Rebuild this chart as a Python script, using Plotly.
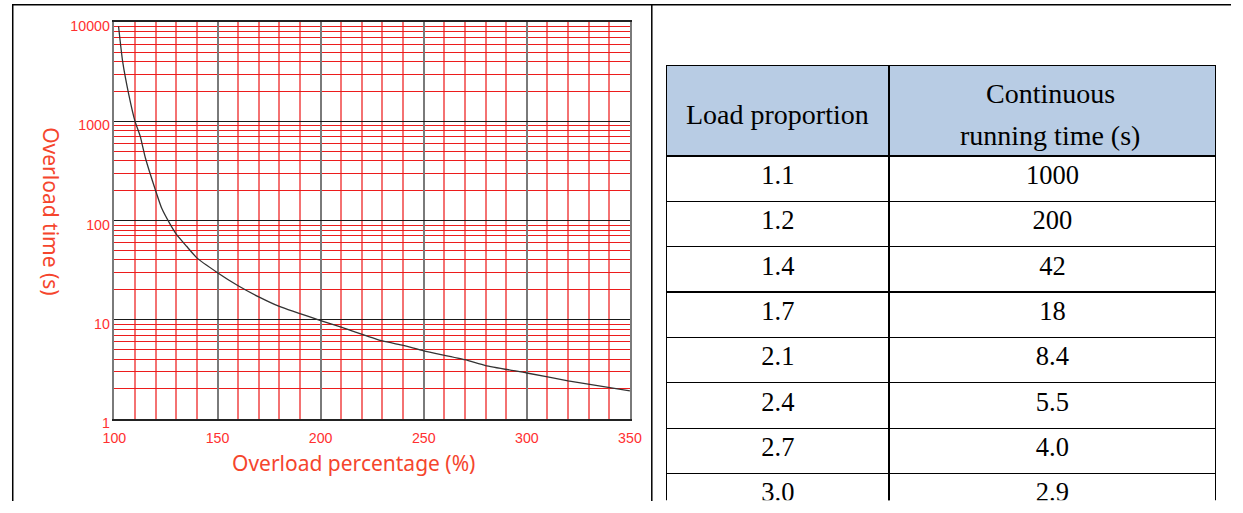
import plotly.graph_objects as go

# Overload curve: overload percentage (%) vs. allowed overload time (s)
overload_pct = [102, 104, 107, 110, 112.5, 115, 120, 123, 127, 130, 135, 140,
                150, 160, 170, 180, 200, 210, 230, 240, 250, 270, 280, 300,
                320, 350]
overload_time_s = [9100, 4000, 1850, 1000, 710, 430, 200, 132, 92, 73, 55, 42,
                   29.8, 22, 17, 13.6, 9.8, 8.4, 6.1, 5.5, 4.85, 3.95, 3.45,
                   2.9, 2.42, 1.91]

# Axis ticks
x_tick_vals = [100, 150, 200, 250, 300, 350]
y_tick_vals = [1, 10, 100, 1000, 10000]
y_tick_text = ["1", "10", "100", "1000", "10000"]

# Table: load proportion vs. continuous running time
header_lines = [["Load proportion"], ["Continuous", "running time (s)"]]
load_proportion = [1.1, 1.2, 1.4, 1.7, 2.1, 2.4, 2.7, 3.0]
running_time_s = [1000, 200, 42, 18, 8.4, 5.5, 4.0, 2.9]

W, H = 1243, 513
PAGE_MARGIN = 8
SX, SY = W / (W + 2 * PAGE_MARGIN), H / (H + 2 * PAGE_MARGIN)
RED = "#ff3030"
TITLE_RED = "#f5452d"

# table placement (screen pixels)
TBL_L, TBL_R, TBL_T = 667, 1220, 69
COL_SPLIT = 891
HEADER_H, ROW_H = 88, 44
HEADER_LINE_PITCH = 42


def px_x(p):
    """Screen pixel column -> paper fraction."""
    return (p / SX - PAGE_MARGIN) / W


def px_y(p):
    """Screen pixel row -> paper fraction."""
    return 1 - (p / SY - PAGE_MARGIN) / H


def fmt_time(v):
    return f"{v:.1f}" if v < 10 else f"{v:g}"


minor_y = [m * 10 ** k for k in range(4) for m in range(2, 10)]

fig = go.Figure()

fig.add_trace(go.Scatter(
    x=overload_pct, y=overload_time_s, mode="lines",
    line=dict(color="#333333", width=1.3, shape="spline", smoothing=0.5),
    hoverinfo="skip", showlegend=False,
))

fig.add_trace(go.Table(
    domain=dict(x=[px_x(TBL_L), px_x(TBL_R)], y=[0, px_y(TBL_T)]),
    columnwidth=[COL_SPLIT - TBL_L, TBL_R - COL_SPLIT],
    header=dict(
        values=["", ""],
        fill_color="#b8cce4",
        line=dict(color="black", width=1.2),
        height=HEADER_H / SY,
    ),
    cells=dict(
        values=[[f"{v:.1f}" for v in load_proportion],
                [fmt_time(v) for v in running_time_s]],
        fill_color="white",
        line=dict(color="black", width=1.2),
        align="center",
        height=ROW_H / SY,
        font=dict(family="Liberation Serif", size=26.5, color="black"),
    ),
))

# Header labels, centred vertically inside the header band
col_edges = [TBL_L, COL_SPLIT, 1215]
header_mid = TBL_T + HEADER_H / 2 + 5
for i, lines in enumerate(header_lines):
    for j, line in enumerate(lines):
        offset = (j - (len(lines) - 1) / 2) * HEADER_LINE_PITCH
        fig.add_annotation(
            text=line, xref="paper", yref="paper",
            x=px_x((col_edges[i] + col_edges[i + 1]) / 2),
            y=px_y(header_mid + offset),
            xanchor="center", yanchor="middle", showarrow=False,
            font=dict(family="Liberation Serif", size=28, color="black"),
        )

tick_font = dict(family="Liberation Sans", size=14.2, color=RED)

fig.update_xaxes(
    domain=[px_x(111), px_x(630)],
    range=[100, 350],
    tickmode="array", tickvals=x_tick_vals,
    ticks="", ticklabelstandoff=5,
    showline=True, linecolor="#222222", linewidth=1.5, mirror=True,
    showgrid=True, gridcolor="#7a7a7a", gridwidth=1.5,
    minor=dict(dtick=10, tick0=100, showgrid=True,
               gridcolor="rgba(240,60,60,0.72)", gridwidth=1.5),
    tickfont=tick_font,
    zeroline=False,
)
fig.update_yaxes(
    domain=[px_y(423), px_y(26)],
    type="log", range=[0, 4],
    tickmode="array", tickvals=y_tick_vals, ticktext=y_tick_text,
    ticks="", ticklabelshift=4,
    showline=True, linecolor="#7a7a7a", linewidth=1.5, mirror=True,
    showgrid=True, gridcolor="#1a1a1a", gridwidth=1,
    minor=dict(tickmode="array", tickvals=minor_y, showgrid=True,
               gridcolor="#ec1c1c", gridwidth=1),
    tickfont=tick_font,
    zeroline=False,
)

# Axis titles
title_font = dict(family="Noto Sans", size=21, color=TITLE_RED)
fig.add_annotation(
    text="Overload percentage (%)", xref="paper", yref="paper",
    x=px_x(352), y=px_y(467), xanchor="center", yanchor="middle",
    showarrow=False, font=title_font,
)
fig.add_annotation(
    text="Overload time (s)", xref="paper", yref="paper",
    x=px_x(47), y=px_y(215), xanchor="center", yanchor="middle",
    showarrow=False, textangle=90, font=title_font,
)

# Panel frame lines
frame = dict(color="black", width=1.5)
edge_x, edge_y = 0.75 / W, 1 - 0.75 / H
fig.add_shape(type="line", xref="paper", yref="paper",
              x0=0, x1=1, y0=edge_y, y1=edge_y, line=frame)
fig.add_shape(type="line", xref="paper", yref="paper",
              x0=edge_x, x1=edge_x, y0=0, y1=edge_y, line=frame)
fig.add_shape(type="line", xref="paper", yref="paper",
              x0=px_x(652), x1=px_x(652), y0=0, y1=edge_y, line=frame)

fig.update_layout(
    width=W, height=H,
    margin=dict(l=0, r=0, t=0, b=0),
    paper_bgcolor="white", plot_bgcolor="white",
    showlegend=False,
)

fig.write_html("out.html")
